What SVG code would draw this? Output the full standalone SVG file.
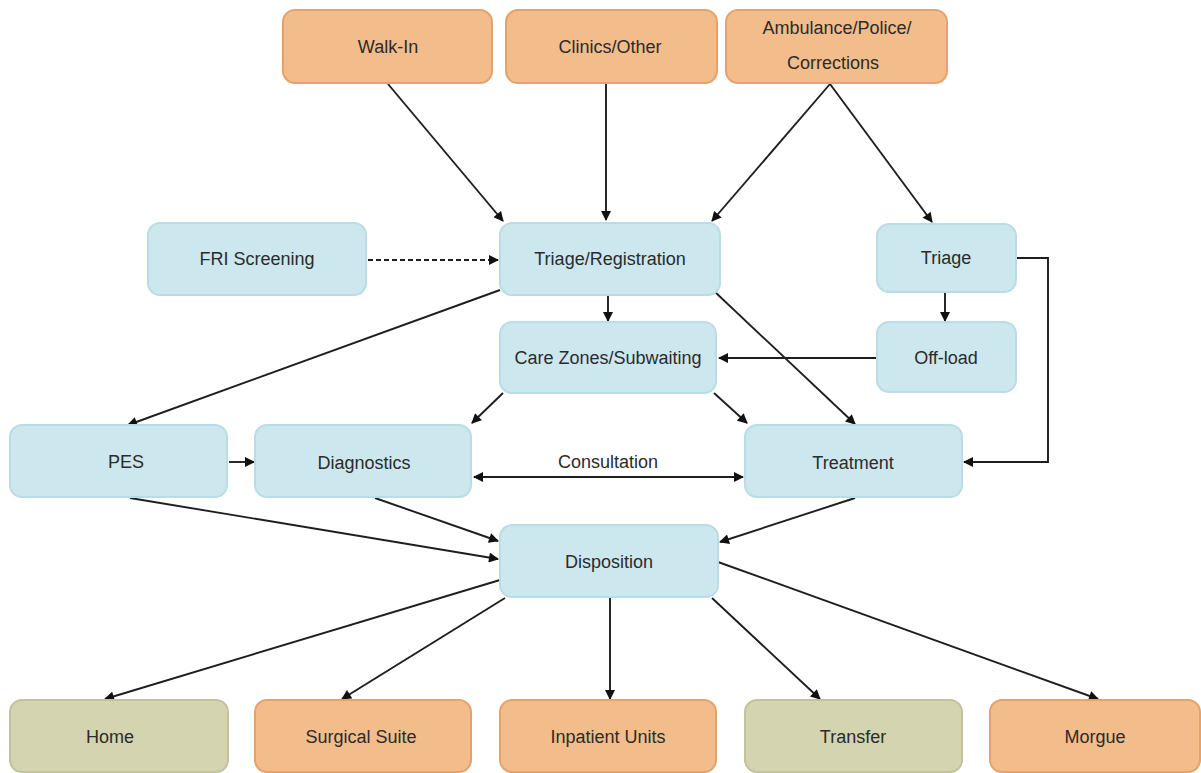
<svg xmlns="http://www.w3.org/2000/svg" width="1201" height="773" viewBox="0 0 1201 773">
  <style>
    .box rect { stroke-width: 2; }
    .src rect { fill: #f3bc8b; stroke: #e4a36c; }
    .step rect { fill: #cde7ee; stroke: #b9dce5; }
    .end rect { fill: #d5d4b0; stroke: #c2c29c; }
    text { font-family: "Liberation Sans", Arial, sans-serif; font-size: 18px; fill: #2b2b2b; text-anchor: middle; dominant-baseline: central; }
    .edge { stroke: #1e1e1e; stroke-width: 1.9; fill: none; marker-end: url(#arr); }
    .dash { stroke-dasharray: 5 3; }
  </style>
  <defs>
    <marker id="arr" viewBox="0 0 10 10" refX="9" refY="5" markerWidth="11" markerHeight="10" orient="auto" markerUnits="userSpaceOnUse">
      <path d="M0,0 L10,5 L0,10 z" fill="#111"/>
    </marker>
    <marker id="arrStart" viewBox="0 0 10 10" refX="1" refY="5" markerWidth="11" markerHeight="10" orient="auto" markerUnits="userSpaceOnUse">
      <path d="M10,0 L0,5 L10,10 z" fill="#111"/>
    </marker>
  </defs>
  <rect width="1201" height="773" fill="#fff"/>

  <!-- connectors -->
  <g id="connectors">
    <line class="edge" x1="388" y1="84" x2="503" y2="221"/>
    <line class="edge" x1="606" y1="84" x2="606" y2="220"/>
    <line class="edge" x1="830" y1="84" x2="712" y2="221"/>
    <line class="edge" x1="830" y1="84" x2="932" y2="222"/>
    <line class="edge dash" x1="368" y1="260" x2="498" y2="260"/>
    <line class="edge" x1="500" y1="290" x2="128" y2="425"/>
    <line class="edge" x1="608" y1="296" x2="608" y2="321"/>
    <line class="edge" x1="715" y1="292" x2="855" y2="424"/>
    <line class="edge" x1="945" y1="293" x2="945" y2="321"/>
    <polyline class="edge" points="1017,258 1048,258 1048,462 964,462"/>
    <line class="edge" x1="877" y1="358" x2="719" y2="358"/>
    <line class="edge" x1="503" y1="393" x2="472" y2="423"/>
    <line class="edge" x1="714" y1="393" x2="747" y2="423"/>
    <line class="edge" x1="229" y1="462" x2="254" y2="462"/>
    <line class="edge" x1="474" y1="477" x2="743" y2="477" marker-start="url(#arrStart)"/>
    <line class="edge" x1="130" y1="498" x2="498" y2="559"/>
    <line class="edge" x1="375" y1="498" x2="498" y2="541"/>
    <line class="edge" x1="855" y1="498" x2="720" y2="542"/>
    <line class="edge" x1="500" y1="580" x2="105" y2="699"/>
    <line class="edge" x1="505" y1="598" x2="342" y2="699"/>
    <line class="edge" x1="610" y1="598" x2="610" y2="699"/>
    <line class="edge" x1="712" y1="598" x2="820" y2="699"/>
    <line class="edge" x1="718" y1="562" x2="1098" y2="699"/>
    <text x="608" y="462">Consultation</text>
  </g>

  <!-- sources -->
  <g id="walk-in" class="box src"><rect x="283" y="10" width="209" height="73" rx="12"/><text x="388" y="47">Walk-In</text></g>
  <g id="clinics" class="box src"><rect x="506" y="10" width="211" height="73" rx="12"/><text x="610" y="47">Clinics/Other</text></g>
  <g id="ambulance" class="box src"><rect x="726" y="10" width="221" height="73" rx="12"/><text x="837" y="28">Ambulance/Police/</text><text x="833" y="63">Corrections</text></g>

  <!-- intake -->
  <g id="fri-screening" class="box step"><rect x="148" y="223" width="218" height="72" rx="12"/><text x="257" y="259">FRI Screening</text></g>
  <g id="triage-registration" class="box step"><rect x="500" y="223" width="220" height="72" rx="12"/><text x="610" y="259">Triage/Registration</text></g>
  <g id="triage" class="box step"><rect x="877" y="224" width="139" height="68" rx="12"/><text x="946" y="258">Triage</text></g>
  <g id="care-zones" class="box step"><rect x="500" y="322" width="216" height="71" rx="12"/><text x="608" y="358">Care Zones/Subwaiting</text></g>
  <g id="off-load" class="box step"><rect x="877" y="322" width="139" height="70" rx="12"/><text x="946" y="358">Off-load</text></g>

  <!-- care -->
  <g id="pes" class="box step"><rect x="10" y="425" width="217" height="72" rx="12"/><text x="126" y="462">PES</text></g>
  <g id="diagnostics" class="box step"><rect x="255" y="425" width="216" height="72" rx="12"/><text x="364" y="463">Diagnostics</text></g>
  <g id="treatment" class="box step"><rect x="745" y="425" width="217" height="72" rx="12"/><text x="853" y="463">Treatment</text></g>
  <g id="disposition" class="box step"><rect x="500" y="525" width="218" height="72" rx="12"/><text x="609" y="562">Disposition</text></g>

  <!-- outcomes -->
  <g id="home" class="box end"><rect x="10" y="700" width="218" height="72" rx="12"/><text x="110" y="737">Home</text></g>
  <g id="surgical-suite" class="box src"><rect x="255" y="700" width="216" height="72" rx="12"/><text x="361" y="737">Surgical Suite</text></g>
  <g id="inpatient-units" class="box src"><rect x="500" y="700" width="216" height="72" rx="12"/><text x="608" y="737">Inpatient Units</text></g>
  <g id="transfer" class="box end"><rect x="745" y="700" width="217" height="72" rx="12"/><text x="853" y="737">Transfer</text></g>
  <g id="morgue" class="box src"><rect x="990" y="700" width="210" height="72" rx="12"/><text x="1095" y="737">Morgue</text></g>
</svg>
